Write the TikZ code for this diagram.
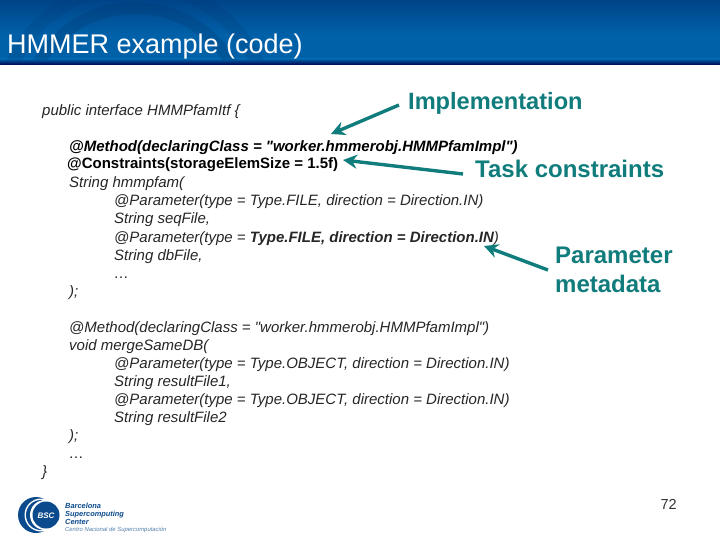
\documentclass[tikz,border=0pt]{standalone}
\usepackage{fontspec}
\setmainfont[Ligatures=TeXOff]{Liberation Sans}
\usetikzlibrary{arrows.meta}
\definecolor{teal1}{HTML}{117C7C}
\definecolor{bandtop}{HTML}{004488}
\definecolor{bandmid}{HTML}{0060A8}
\definecolor{logoblue}{HTML}{0B4A8C}
\tikzset{
 x=1pt,y=-1pt,
 code/.style={anchor=base west,inner sep=0pt,font=\fontsize{15}{15}\selectfont\itshape,text=black!85},
 bcode/.style={code,font=\fontsize{15}{15}\selectfont\bfseries\itshape,text=black},
 lab/.style={anchor=base west,inner sep=0pt,text=teal1,font=\fontsize{#1}{#1}\selectfont\bfseries},
 pointer/.style={draw=teal1,line width=3.4pt,-{Stealth[length=14pt,width=14pt]}},
 logotext/.style={anchor=base west,inner sep=0pt,text=logoblue,font=\fontsize{7.4}{7.4}\selectfont\bfseries\itshape},
}
\begin{document}
\begin{tikzpicture}
\useasboundingbox (0,0) rectangle (720,540);
\fill[white] (0,0) rectangle (720,540);
% header band
\shade[top color=bandtop,bottom color=bandmid] (0,0) rectangle (720,34);
\fill[bandmid] (0,34) rectangle (720,60);
\shade[top color=bandmid,bottom color=black!70!blue] (0,59) rectangle (720,65);
\begin{scope}
\clip (0,0) rectangle (720,60);
\draw[bandtop!85!black,opacity=.3,line width=12pt] (135,120) circle (112);
\draw[bandtop!85!black,opacity=.2,line width=14pt] (135,120) circle (135);
\end{scope}
\node[anchor=base west,inner sep=0pt,text=white,font=\fontsize{27}{27}\selectfont] (title) at (7,54) {HMMER example (code)};
% code
\node[code] (l0) at (42,116) {public interface HMMPfamItf \{};
\node[bcode] (l1) at (69,152) {@Method(declaringClass = "worker.hmmerobj.HMMPfamImpl")};
\node[bcode,font=\fontsize{15}{15}\selectfont\bfseries] (l2) at (67,169) {@Constraints(storageElemSize = 1.5f)};
\node[code] (l3) at (69,188) {String hmmpfam(};
\node[code] (l4) at (114,206) {@Parameter(type = Type.FILE, direction = Direction.IN)};
\node[code] (l5) at (114,224) {String seqFile,};
\node[code] (l6) at (114,242) {@Parameter(type = \textbf{Type.FILE, direction = Direction.IN})};
\node[code] (l7) at (114,260) {String dbFile,};
\node[code] (l8) at (114,278) {…};
\node[code] (l9) at (69,296) {);};
\node[code] (l10) at (69,332) {@Method(declaringClass = "worker.hmmerobj.HMMPfamImpl")};
\node[code] (l11) at (69,350) {void mergeSameDB(};
\node[code] (l12) at (114,368) {@Parameter(type = Type.OBJECT, direction = Direction.IN)};
\node[code] (l13) at (114,386) {String resultFile1,};
\node[code] (l14) at (114,404) {@Parameter(type = Type.OBJECT, direction = Direction.IN)};
\node[code] (l15) at (114,422) {String resultFile2};
\node[code] (l16) at (69,440) {);};
\node[code] (l17) at (69,458) {…};
\node[code] (l18) at (42,476) {\}};
% labels
\node[lab=23.6] (impl) at (408,110) {Implementation};
\node[lab=24] (task) at (475,178) {Task constraints};
\node[lab=24] (par1) at (555,263) {Parameter};
\node[lab=24] (par2) at (555,292) {metadata};
\coordinate (a1s) at (399,105);
\coordinate (a1e) at (331,134);
\coordinate (a2s) at (463,174);
\coordinate (a2e) at (343,160);
\coordinate (a3s) at (548,270);
\coordinate (a3e) at (484,246);
\draw[pointer] (a1s) -- (a1e);
\draw[pointer] (a2s) -- (a2e);
\draw[pointer] (a3s) -- (a3e);
\node[anchor=base east,inner sep=0pt,text=black!80,font=\fontsize{14.5}{14.5}\selectfont] (pg) at (677,509) {72};
% logo
\fill[logoblue] (36,515) circle (18);
\fill[white] (41,515) circle (16.5);
\fill[logoblue] (41,515) circle (15);
\fill[white] (45,515) circle (15);
\fill[logoblue] (46,515) circle (13.5);
\node[inner sep=0pt,text=white,font=\fontsize{8}{8}\selectfont\bfseries\itshape] (bsc) at (46,516) {BSC};
\node[logotext] (b1) at (65,508) {Barcelona};
\node[logotext] (b2) at (65,516) {Supercomputing};
\node[logotext] (b3) at (65,524) {Center};
\node[logotext,text=logoblue!70,font=\fontsize{5.9}{5.9}\selectfont\itshape] (b4) at (65,531) {Centro Nacional de Supercomputación};
\end{tikzpicture}
\end{document}
